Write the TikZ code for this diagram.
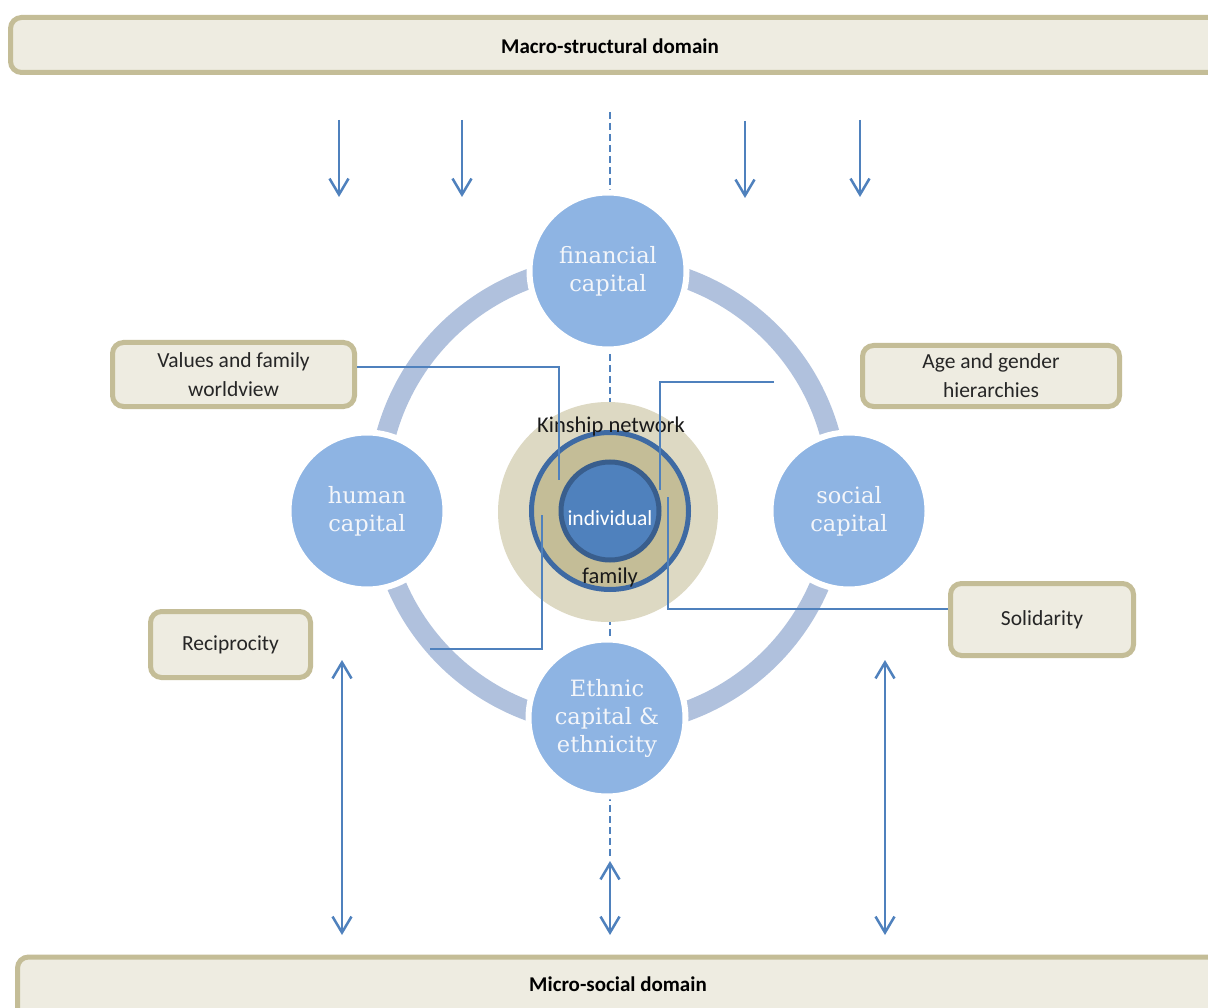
\documentclass[tikz,border=0pt]{standalone}
\usepackage{fontspec}
\setmainfont{Carlito}
\newfontfamily\capfont{DejaVu Serif}
\usetikzlibrary{arrows.meta}
\definecolor{bannerfill}{HTML}{EEECE1}
\definecolor{bannerline}{HTML}{C4BD97}
\definecolor{linkblue}{HTML}{4F81BD}
\definecolor{ringblue}{HTML}{B0C1DD}
\definecolor{capblue}{HTML}{8EB4E3}
\definecolor{kinfill}{HTML}{DDD9C3}
\definecolor{famfill}{HTML}{C4BD97}
\definecolor{famline}{HTML}{3E6AA3}
\definecolor{indfill}{HTML}{4F81BD}
\definecolor{indline}{HTML}{395E8D}
\definecolor{captext}{HTML}{F4F6FA}
\begin{document}
\begin{tikzpicture}[x=1pt,y=-1pt,
  banner/.style={draw=bannerline, fill=bannerfill, line width=5pt, rounded corners=11pt, inner sep=0pt},
  labelbox/.style={draw=bannerline, fill=bannerfill, line width=5pt, rounded corners=11pt, inner sep=0pt, align=center, font=\fontsize{21.5}{29}\selectfont, text=black!85},
  capnode/.style={circle, fill=capblue, draw=white, line width=6pt, minimum size=157pt, inner sep=0pt, text=captext, align=center, font=\capfont\fontsize{22.5}{28}\selectfont},
  link/.style={draw=linkblue, line width=2.5pt},
  flow/.style={draw=linkblue, line width=2.5pt, -{Straight Barb[length=16pt,width=19pt,line width=2.5pt]}},
  bothflow/.style={draw=linkblue, line width=2.5pt, {Straight Barb[length=16pt,width=19pt,line width=2.5pt]}-{Straight Barb[length=16pt,width=19pt,line width=2.5pt]}},
  dashlink/.style={draw=linkblue, line width=2.5pt, dash pattern=on 7pt off 4pt},
  plaintext/.style={inner sep=0pt, font=\fontsize{22.5}{26}\selectfont, text=black!90}
]
\useasboundingbox (0,0) rectangle (1208,1008);
\fill[white] (0,0) rectangle (1208,1008);

% banners
\node[banner, minimum width=1227pt, minimum height=55pt] (macrobar) at (624,45) {};
\node[inner sep=0pt, font=\bfseries\fontsize{21}{25}\selectfont] (macro) at (610,46) {Macro-structural domain};
\node[banner, minimum width=1227pt, minimum height=62pt] (microbar) at (631,988) {};
\node[inner sep=0pt, font=\bfseries\fontsize{21}{25}\selectfont] (micro) at (618,984) {Micro-social domain};

% coordinates
\coordinate (ringc) at (608,495);
\coordinate (dtop) at (610,112);
\coordinate (dbot) at (610,858);
\coordinate (a1s) at (339,120); \coordinate (a1e) at (339,197);
\coordinate (a2s) at (462,120); \coordinate (a2e) at (462,197);
\coordinate (a3s) at (745,121); \coordinate (a3e) at (745,198);
\coordinate (a4s) at (860,120); \coordinate (a4e) at (860,197);
\coordinate (b1s) at (342,660); \coordinate (b1e) at (342,935);
\coordinate (b2s) at (885,660); \coordinate (b2e) at (885,935);
\coordinate (b3s) at (610,861); \coordinate (b3e) at (610,935);
\coordinate (valend) at (559,480);
\coordinate (agestart) at (774,382); \coordinate (ageend) at (660,490);
\coordinate (recstart) at (430,649); \coordinate (recend) at (542,515);
\coordinate (solend) at (668,497);

% ring and dashed axis
\draw[ringblue, line width=20pt] (ringc) circle[radius=230pt];
\draw[dashlink] (dtop) -- (dbot);

% capital circles
\node[capnode] (fin) at (608,271) {financial\\capital};
\node[capnode] (hum) at (367,511) {human\\capital};
\node[capnode] (soc) at (849,511) {social\\capital};
\node[capnode] (eth) at (607,718) {Ethnic\\capital \&\\ethnicity};

% kinship core
\node[circle, fill=kinfill, minimum size=220pt, inner sep=0pt] (kin) at (608,512) {};
\node[circle, fill=famfill, draw=famline, line width=5pt, minimum size=157pt, inner sep=0pt] (fam) at (610,511) {};
\node[circle, fill=indfill, draw=indline, line width=5pt, minimum size=98pt, inner sep=0pt] (ind) at (610,511) {};
\node[inner sep=0pt, text=white, font=\fontsize{21.5}{25}\selectfont] (indlabel) at (610,518) {individual};
\node[plaintext] (kinlabel) at (611,427) {Kinship network};
\node[plaintext] (famlabel) at (610,577) {family};

% label boxes
\node[labelbox, minimum width=242pt, minimum height=64pt] (values) at (233.5,374.5) {Values and family\\worldview};
\node[labelbox, minimum width=257pt, minimum height=61pt] (age) at (991,376) {Age and gender\\hierarchies};
\node[labelbox, minimum width=160pt, minimum height=66pt] (recip) at (230.5,644.5) {Reciprocity};
\node[labelbox, minimum width=183pt, minimum height=72pt] (solid) at (1042,619.5) {Solidarity};

% connectors
\draw[link] ([yshift=7.5pt]values.east) -| (valend);
\draw[link] (agestart) -| (ageend);
\draw[link] (recstart) -| (recend);
\draw[link] ([yshift=10.5pt]solid.west) -| (solend);

% arrows
\draw[flow] (a1s) -- (a1e);
\draw[flow] (a2s) -- (a2e);
\draw[flow] (a3s) -- (a3e);
\draw[flow] (a4s) -- (a4e);
\draw[bothflow] (b1s) -- (b1e);
\draw[bothflow] (b2s) -- (b2e);
\draw[bothflow] (b3s) -- (b3e);
\end{tikzpicture}
\end{document}
